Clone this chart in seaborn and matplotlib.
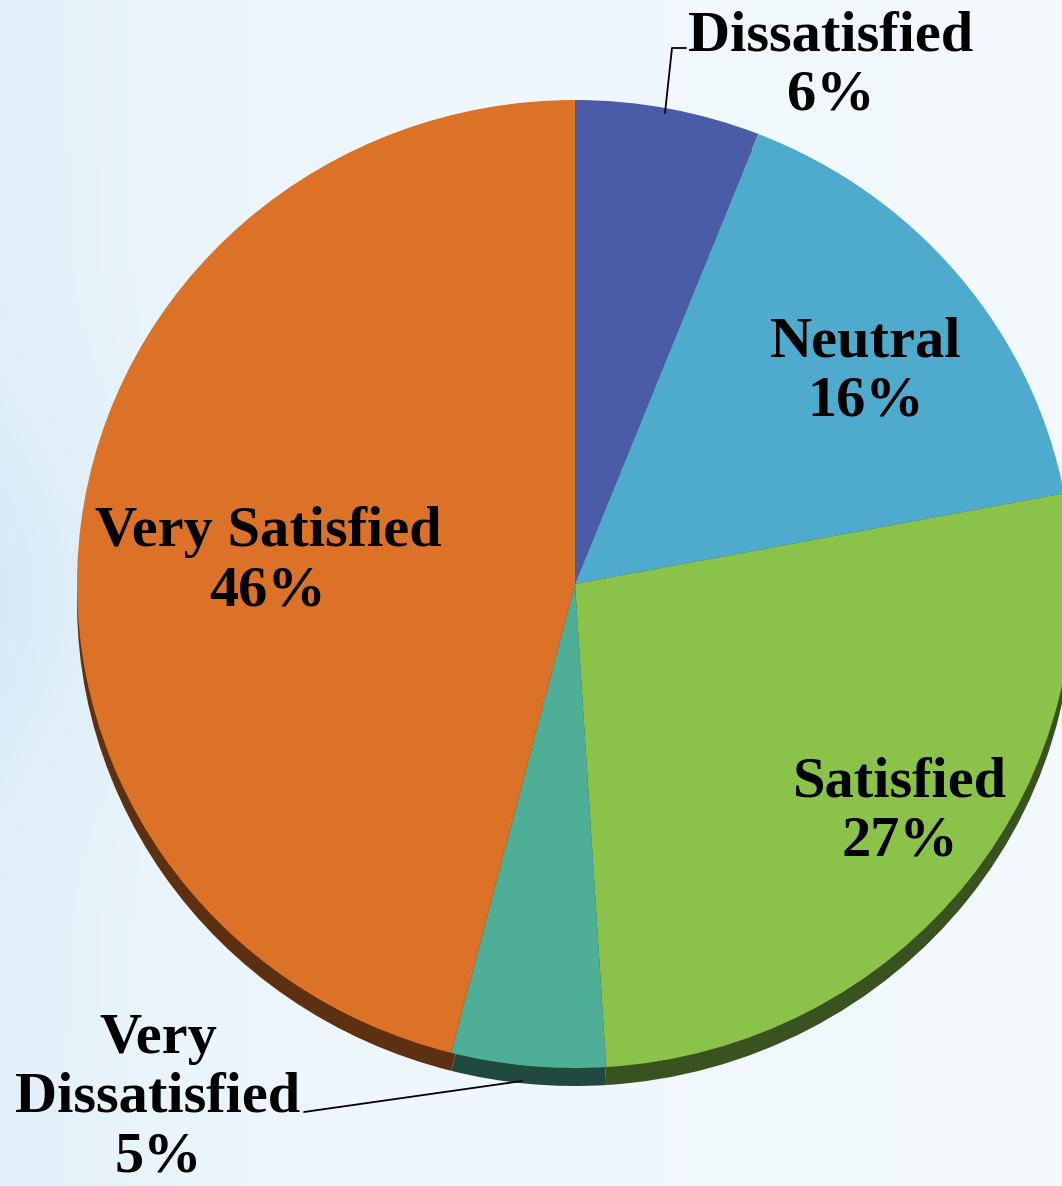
import matplotlib.pyplot as plt
import matplotlib.colors as mcolors
import numpy as np
import seaborn as sns

sns.set_theme(style="white")
plt.rcParams["font.family"] = ["Liberation Serif", "DejaVu Serif"]

# Survey result shares (clockwise from 12 o'clock)
categories = ["Dissatisfied", "Neutral", "Satisfied", "Very Dissatisfied", "Very Satisfied"]
shares = [6, 16, 27, 5, 46]
colors = ["#4a5ca8", "#4fabcd", "#8bc34a", "#4fae96", "#dc7227"]

W, H = 1062, 1186
K = 498 / 484  # squash vertically a touch, like the tilted 3D pie


def px(x, y):
    # pixel position (top-left origin) -> data coords of the pie axes
    return x, (H - y) * K


fig = plt.figure(figsize=(W / 100, H / 100), dpi=100)

# light blue background gradient
bg = fig.add_axes([0, 0, 1, 1])
gx = np.linspace(0, 1, 200)
gy = np.linspace(0, 1, 200)
XX, YY = np.meshgrid(gx, gy)
band = np.exp(-((YY - 0.5) / 0.15) ** 2) * np.exp(-XX / 0.12)
t = np.clip(0.45 * np.exp(-XX / 0.3) + 0.35 * band, 0, 1)
c_light = np.array(mcolors.to_rgb("#f3f9fd"))
c_blue = np.array(mcolors.to_rgb("#cfe6f6"))
img = c_light * (1 - t[..., None]) + c_blue * t[..., None]
bg.imshow(img, aspect="auto", extent=[0, 1, 0, 1])
bg.axis("off")

ax = fig.add_axes([0, 0, 1, 1])
ax.patch.set_alpha(0)

cx, cy = px(575, 584)
r = 498
flat = dict(linewidth=0, antialiased=True)

# darker copy underneath, shifted down, gives the 3D rim
shadow = [tuple(np.array(mcolors.to_rgb(c)) * 0.42) for c in colors]
ax.pie(shares, colors=shadow, startangle=90, counterclock=False,
       center=(cx, cy - 18 * K), radius=r, frame=True, wedgeprops=flat)
ax.pie(shares, colors=colors, startangle=90, counterclock=False,
       center=(cx, cy), radius=r, frame=True, wedgeprops=flat)

ax.set_aspect("auto")
ax.set_xlim(0, W)
ax.set_ylim(0, H * K)
ax.axis("off")

label_pos = {
    "Dissatisfied": (831, 66),
    "Neutral": (866, 372),
    "Satisfied": (900, 812),
    "Very Dissatisfied": (158, 1098),
    "Very Satisfied": (268, 562),
}
label_text = {
    "Very Dissatisfied": "Very\nDissatisfied",
}
for cat, val in zip(categories, shares):
    x, y = px(*label_pos[cat])
    ax.text(x, y, f"{label_text.get(cat, cat)}\n{val}%", ha="center", va="center",
            fontsize=42, fontweight="bold", linespacing=1.18, color="black")

# leader lines
lx, ly = zip(*[px(665, 113), px(672, 48), px(686, 48)])
ax.plot(lx, ly, color="black", lw=1.3)
lx, ly = zip(*[px(304, 1112), px(522, 1081)])
ax.plot(lx, ly, color="black", lw=1.3)

fig.savefig("out.png", dpi=100)
